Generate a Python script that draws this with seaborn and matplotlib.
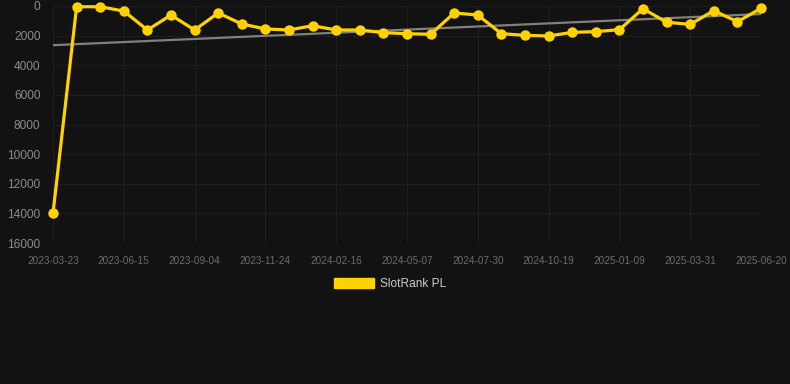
import matplotlib
matplotlib.use('Agg')
import numpy as np
import pandas as pd
import matplotlib.pyplot as plt
from matplotlib.patches import Rectangle
import seaborn as sns

sns.set_style("dark")
plt.rcParams['font.family'] = ['Liberation Sans', 'DejaVu Sans']

# rank snapshots (every ~4 weeks), only every third date is printed on the axis
dates = ["2023-03-23", "2023-04-20", "2023-05-18", "2023-06-15", "2023-07-12",
         "2023-08-08", "2023-09-04", "2023-10-01", "2023-10-28", "2023-11-24",
         "2023-12-22", "2024-01-19", "2024-02-16", "2024-03-13", "2024-04-10",
         "2024-05-07", "2024-06-04", "2024-07-02", "2024-07-30", "2024-08-26",
         "2024-09-22", "2024-10-19", "2024-11-15", "2024-12-12", "2025-01-09",
         "2025-02-05", "2025-03-04", "2025-03-31", "2025-04-27", "2025-05-24",
         "2025-06-20"]
rank = [14000, 50, 50, 340, 1620, 610, 1620, 470, 1215, 1550,
        1620, 1330, 1620, 1620, 1800, 1870, 1910, 470, 610, 1870,
        1980, 2025, 1780, 1730, 1600, 180, 1100, 1240, 315, 1060,
        160]
series_name = "SlotRank PL"

bg = "#121212"
yellow = "#ffd200"

df = pd.DataFrame({"idx": np.arange(len(dates)), "date": dates, "rank": rank})

fig = plt.figure(figsize=(7.9, 3.84), dpi=100, facecolor=bg)
ax = fig.add_axes([53 / 790, 1 - 243 / 384, (761 - 53) / 790, (243 - 6) / 384])
ax.set_facecolor(bg)

# trend line (linear fit)
sns.regplot(data=df, x="idx", y="rank", scatter=False, ci=None, truncate=True,
            ax=ax, line_kws={"color": "#808080", "lw": 1.6, "zorder": 2})

sns.lineplot(data=df, x="idx", y="rank", ax=ax, color=yellow, lw=2.3,
             marker="o", markersize=7.5, markeredgewidth=0, zorder=3,
             clip_on=False)

ax.set_xlim(0, len(dates) - 1)
ax.set_ylim(16000, 0)
ax.set_yticks(range(0, 16001, 2000))
ax.set_xticks(df["idx"][::3])
ax.set_xticklabels(df["date"][::3])
ax.set_xlabel("")
ax.set_ylabel("")

ax.grid(True, color="#1e1e1e", lw=0.8)
for s in ax.spines.values():
    s.set_visible(False)
ax.tick_params(axis="y", colors="#8c8c8c", labelsize=8.6, length=0, pad=9)
ax.tick_params(axis="x", colors="#1e1e1e", labelcolor="#6c6c6c", labelsize=7.2,
               length=5, width=0.8, pad=4)

handle = Rectangle((0, 0), 1, 1, facecolor=yellow, edgecolor=yellow)
fig.legend([handle], [series_name], loc="center", bbox_to_anchor=(390 / 790, 1 - 284 / 384),
           frameon=False, fontsize=8.6, labelcolor="#cccccc",
           handlelength=3.4, handleheight=1.0, handletextpad=0.5)

fig.savefig("out.png", dpi=100, facecolor=bg)
